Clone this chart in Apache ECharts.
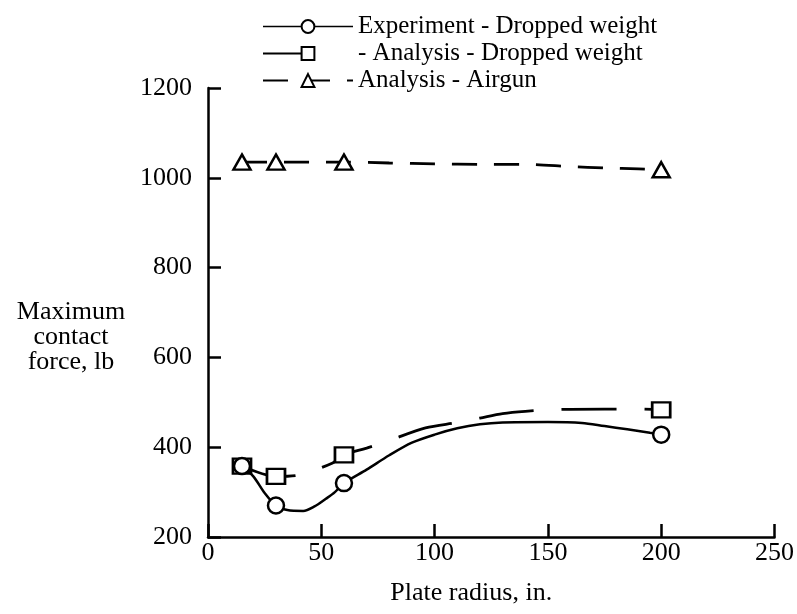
<!DOCTYPE html>
<html>
<head>
<meta charset="utf-8">
<style>
  html, body { margin: 0; padding: 0; background: #fff; }
  #chart { width: 797px; height: 614px; }
</style>
<script src="https://cdn.jsdelivr.net/npm/echarts@6/dist/echarts.min.js"></script>
</head>
<body>
<div id="chart"></div>
<script>
// points actually measured (these get a marker)
const markRadius = [15, 30, 60, 200]

// Experiment - Dropped weight
const expRadius = [15, 20, 25, 30, 35, 42, 47, 52, 56, 60, 70, 80, 90, 100, 110, 120, 130, 150, 165, 175, 185, 195, 200]
const expForce = [358, 335, 298, 270, 260, 258, 268, 285, 300, 320, 350, 382, 410, 428, 442, 451, 455, 456, 454, 447, 440, 432, 428]

// Analysis - Dropped weight
const dropRadius = [15, 30, 40, 55, 60, 70, 80, 96, 110, 120, 130, 140, 155, 175, 190, 200]
const dropForce = [358, 335, 338, 365, 383, 398, 415, 443, 455, 465, 475, 480, 484, 485, 485, 483]

// Analysis - Airgun
const airRadius = [15, 30, 45, 60, 80, 100, 120, 140, 160, 175, 190, 200]
const airForce = [1035, 1035, 1035, 1035, 1033, 1031, 1030, 1030, 1025, 1022, 1020, 1018]

const xTicks = [0, 50, 100, 150, 200, 250]
const yTicks = [200, 400, 600, 800, 1000, 1200]

const font = 'Liberation Serif'

function toData(xs, ys) {
    return xs.map((x, i) => ({
        value: [x, ys[i]],
        symbol: markRadius.indexOf(x) >= 0 ? undefined : 'none'
    }))
}

const markStyle = { color: '#fff', borderColor: '#000', borderWidth: 2.5 }

const chart = echarts.init(document.getElementById('chart'))
chart.setOption({
    animation: false,
    backgroundColor: '#fff',
    textStyle: { fontFamily: font, color: '#000' },
    legend: {
        orient: 'vertical',
        left: 257,
        top: 9,
        itemWidth: 90,
        itemHeight: 16,
        itemGap: 2,
        textStyle: { fontFamily: font, fontSize: 25, color: '#000' },
        data: [
            { name: 'Experiment - Dropped weight', lineStyle: { width: 1.5 } },
            { name: '- Analysis - Dropped weight', lineStyle: { type: [50, 200] } },
            { name: 'Analysis - Airgun' }
        ]
    },
    // y axis title, three centred lines left of the tick labels
    graphic: [{
        type: 'text',
        x: 71,
        y: 337,
        style: {
            text: 'Maximum\ncontact\nforce, lb',
            font: '26px "Liberation Serif"',
            fill: '#000',
            align: 'center',
            verticalAlign: 'middle',
            lineHeight: 25
        }
    }],
    grid: { left: 208, right: 22, top: 88, bottom: 77 },
    xAxis: {
        type: 'value',
        min: xTicks[0],
        max: xTicks[xTicks.length - 1],
        interval: 50,
        name: 'Plate radius, in.',
        nameLocation: 'middle',
        nameGap: 43,
        nameTextStyle: { fontFamily: font, fontSize: 26, color: '#000', padding: [0, 40, 0, 0] },
        axisLine: { lineStyle: { color: '#000', width: 2.5 } },
        axisTick: { inside: true, length: 13, lineStyle: { color: '#000', width: 2.5 } },
        axisLabel: { fontFamily: font, fontSize: 26, color: '#000', margin: 3 },
        splitLine: { show: false }
    },
    yAxis: {
        type: 'value',
        min: yTicks[0],
        max: yTicks[yTicks.length - 1],
        interval: 200,
        axisLine: { lineStyle: { color: '#000', width: 2.5 } },
        axisTick: { inside: true, length: 13, lineStyle: { color: '#000', width: 2.5 } },
        axisLabel: { fontFamily: font, fontSize: 26, color: '#000', margin: 16, formatter: v => String(v) },
        splitLine: { show: false }
    },
    series: [
        {
            name: 'Experiment - Dropped weight',
            type: 'line',
            symbol: 'circle',
            symbolSize: 16,
            smooth: 0.3,
            lineStyle: { color: '#000', width: 2.5 },
            itemStyle: markStyle,
            data: toData(expRadius, expForce),
            z: 3
        },
        {
            name: '- Analysis - Dropped weight',
            type: 'line',
            symbol: 'rect',
            symbolSize: [18, 15],
            smooth: 0.3,
            lineStyle: { color: '#000', width: 2.8, type: [55, 28] },
            itemStyle: markStyle,
            data: toData(dropRadius, dropForce),
            z: 2
        },
        {
            name: 'Analysis - Airgun',
            type: 'line',
            symbol: 'triangle',
            symbolSize: [17, 15],
            smooth: 0.3,
            lineStyle: { color: '#000', width: 2.8, type: [25, 17] },
            itemStyle: markStyle,
            data: toData(airRadius, airForce)
        }
    ]
})
</script>
</body>
</html>
